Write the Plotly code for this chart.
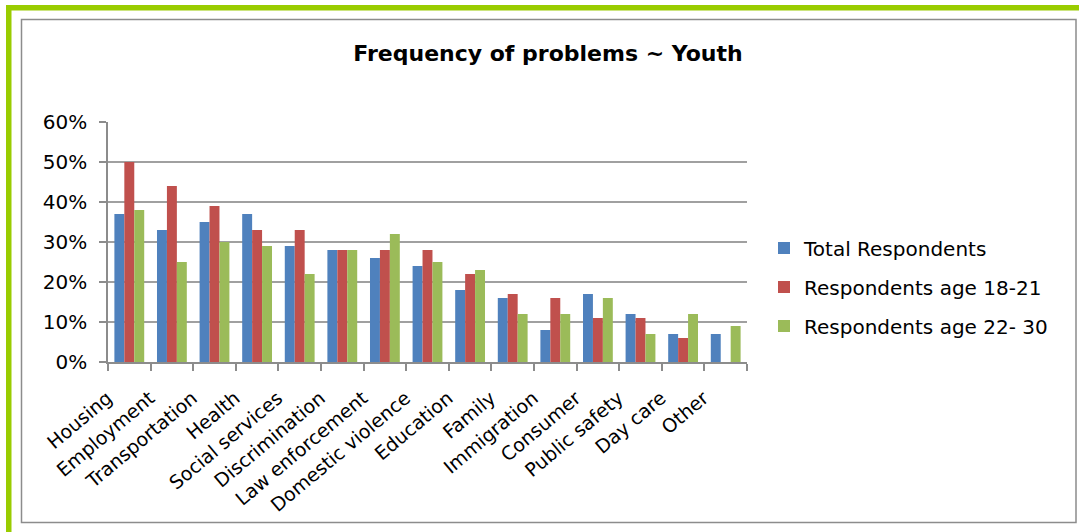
import plotly.graph_objects as go

# Problem categories and the share of respondents reporting each one
categories = [
    "Housing", "Employment", "Transportation", "Health", "Social services",
    "Discrimination", "Law enforcement", "Domestic violence", "Education",
    "Family", "Immigration", "Consumer", "Public safety", "Day care", "Other",
]
total_respondents = [0.37, 0.33, 0.35, 0.37, 0.29, 0.28, 0.26, 0.24, 0.18, 0.16, 0.08, 0.17, 0.12, 0.07, 0.07]
age_18_21 = [0.50, 0.44, 0.39, 0.33, 0.33, 0.28, 0.28, 0.28, 0.22, 0.17, 0.16, 0.11, 0.11, 0.06, 0.00]
age_22_30 = [0.38, 0.25, 0.30, 0.29, 0.22, 0.28, 0.32, 0.25, 0.23, 0.12, 0.12, 0.16, 0.07, 0.12, 0.09]

series_names = ["Total Respondents", "Respondents age 18-21", "Respondents age 22- 30"]
series_values = [total_respondents, age_18_21, age_22_30]
series_colors = ["#4F81BD", "#C0504D", "#9BBB59"]
y_ticks = [0, 0.1, 0.2, 0.3, 0.4, 0.5, 0.6]

W, H = 1079, 532
PL, PR, PT, PB = 108, 747, 122, 362  # plot area in pixels

FONT = "DejaVu Sans"


def px_x(px):
    return (px - PL) / (PR - PL)


def px_y(py):
    return (PB - py) / (PB - PT)


fig = go.Figure()
for i, (name, vals, col) in enumerate(zip(series_names, series_values, series_colors)):
    fig.add_trace(go.Bar(
        x=categories, y=vals, name=name, marker_color=col,
        marker_line_width=0, legendgroup=f"g{i}",
    ))

shapes = [
    # green page frame (top and left bands)
    dict(type="rect", xref="paper", yref="paper", x0=px_x(6), x1=px_x(1079), y0=px_y(5), y1=px_y(10.5),
         fillcolor="#99CC00", line_width=0, layer="above"),
    dict(type="rect", xref="paper", yref="paper", x0=px_x(6), x1=px_x(11.5), y0=px_y(5), y1=px_y(532),
         fillcolor="#99CC00", line_width=0, layer="above"),
    # grey chart border
    dict(type="rect", xref="paper", yref="paper", x0=px_x(21.5), x1=px_x(1076), y0=px_y(19.5), y1=px_y(522.5),
         line=dict(color="#8C8C8C", width=1.5), layer="above"),
]

fig.update_layout(
    width=W, height=H,
    margin=dict(l=PL, r=W - PR, t=PT, b=H - PB, pad=0),
    paper_bgcolor="white", plot_bgcolor="white",
    font=dict(family=FONT, color="black"),
    title=dict(text="<b>Frequency of problems ~ Youth</b>", x=548 / W, xanchor="center",
               y=1 - 53 / H, yanchor="middle", font=dict(family=FONT, size=22, color="black")),
    barmode="group", bargap=0.3, bargroupgap=0,
    showlegend=True,
    legend=dict(x=px_x(764), xanchor="left", y=px_y(287), yanchor="middle",
                font=dict(family=FONT, size=20, color="black"),
                tracegroupgap=10, bgcolor="rgba(0,0,0,0)"),
    shapes=shapes,
)

fig.update_yaxes(
    range=[0, 0.6], tickvals=y_ticks, tickformat=".0%",
    showgrid=True, gridcolor="#A0A0A0", gridwidth=1.5,
    showline=True, linecolor="#8C8C8C", linewidth=1.5,
    ticks="outside", ticklen=7, tickcolor="#8C8C8C", tickwidth=1.5,
    ticklabelstandoff=8,
    tickfont=dict(family=FONT, size=20, color="black"), zeroline=False,
)
fig.update_xaxes(
    range=[-0.5, len(categories) - 0.5], tickangle=-40,
    showline=True, linecolor="#8C8C8C", linewidth=1.5,
    ticks="outside", ticklen=7, tickcolor="#8C8C8C", tickwidth=1.5, tickson="boundaries",
    ticklabelshift=-22, ticklabelstandoff=16,
    tickfont=dict(family=FONT, size=19, color="black"), showgrid=False,
)

fig.write_html("out.html")
